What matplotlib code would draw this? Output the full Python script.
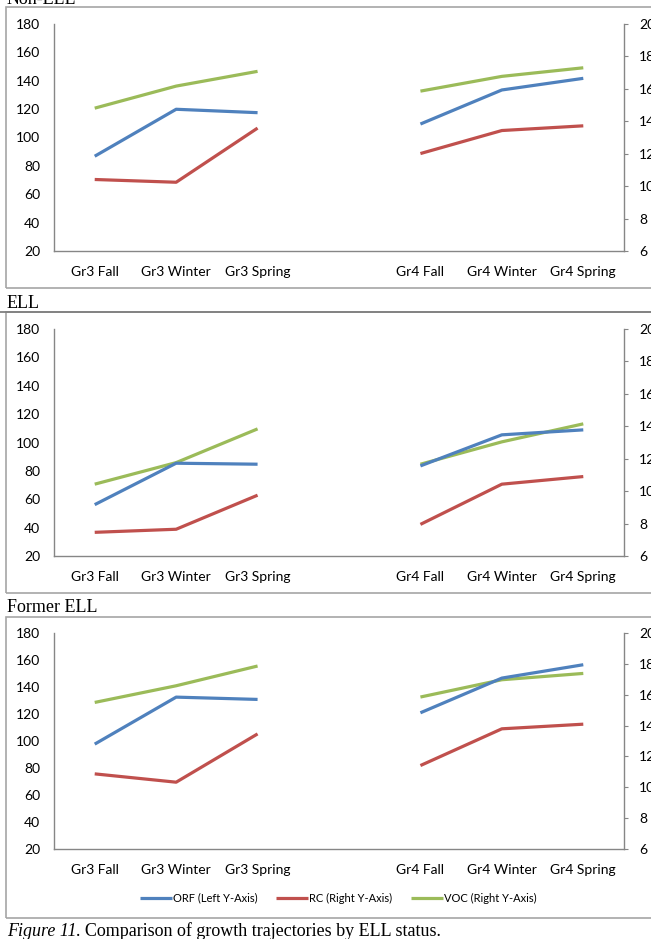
import matplotlib

matplotlib.use('Agg')

import matplotlib.pyplot as plt
import numpy as np
from matplotlib.patches import Rectangle
from matplotlib.lines import Line2D

plt.rcParams.update({
    'font.family': 'Lato',
    'font.size': 10,
    'axes.spines.top': False,
})

W, H = 651, 939

categories = ['Gr3 Fall', 'Gr3 Winter', 'Gr3 Spring', '',
              'Gr4 Fall', 'Gr4 Winter', 'Gr4 Spring']
nan = np.nan

panel_titles = ['Non-ELL', 'ELL', 'Former ELL']

# ORF on the left axis, RC and VOC on the right axis
orf = [
    [86.8, 119.9, 117.5, nan, 109.5, 133.5, 141.7],
    [56.2, 85.4, 84.7, nan, 83.5, 105.4, 108.9],
    [97.7, 132.5, 130.8, nan, 120.9, 146.6, 156.5],
]
rc = [
    [10.41, 10.24, 13.58, nan, 12.01, 13.43, 13.72],
    [7.46, 7.65, 9.75, nan, 7.95, 10.43, 10.90],
    [10.87, 10.33, 13.46, nan, 11.41, 13.79, 14.09],
]
voc = [
    [14.81, 16.17, 17.08, nan, 15.86, 16.77, 17.30],
    [10.43, 11.76, 13.84, nan, 11.66, 13.04, 14.15],
    [15.50, 16.58, 17.86, nan, 15.85, 16.97, 17.38],
]

left_ticks = np.arange(20, 181, 20)
right_ticks = np.arange(6, 21, 2)

c_orf, c_rc, c_voc = '#4F81BD', '#C0504D', '#9BBB59'
axis_grey = '#868686'
box_grey = '#a6a6a6'

fig = plt.figure(figsize=(W / 100, H / 100), dpi=100)


def fx(px):
    return px / W


def fy(py):
    return 1 - py / H


# pixel layout: (box top, box bottom, plot top, plot bottom, title y)
layout = [
    (7, 288, 24, 251, 0),
    (312, 593, 329, 556, 303),
    (617, 918, 633, 849, 607),
]

x = np.arange(len(categories))

for i, (bt, bb, pt, pb, ty) in enumerate(layout):
    # frame around each chart
    fig.add_artist(Rectangle((fx(6), fy(bb)), 1.2, (bb - bt) / H,
                             transform=fig.transFigure, fill=False,
                             ec=box_grey, lw=1.2))
    fig.text(fx(7), fy(ty), panel_titles[i], family='Liberation Serif',
             fontsize=13, va='center', ha='left')

    ax = fig.add_axes([fx(54), fy(pb), fx(624) - fx(54), (pb - pt) / H])
    ax2 = ax.twinx()

    l1, = ax.plot(x, orf[i], color=c_orf, lw=2.3, solid_capstyle='butt',
                  label='ORF (Left Y-Axis)', zorder=3)
    l2, = ax2.plot(x, rc[i], color=c_rc, lw=2.3, solid_capstyle='butt',
                   label='RC (Right Y-Axis)')
    l3, = ax2.plot(x, voc[i], color=c_voc, lw=2.3, solid_capstyle='butt',
                   label='VOC (Right Y-Axis)')
    ax.set_zorder(ax2.get_zorder() + 1)
    ax.patch.set_visible(False)

    ax.set_xlim(-0.5, len(categories) - 0.5)
    ax.set_ylim(20, 180)
    ax2.set_ylim(6, 20)
    ax.set_yticks(left_ticks)
    ax2.set_yticks(right_ticks)
    ax.set_xticks(x)
    ax.set_xticklabels(categories)

    ax.tick_params(axis='y', length=0, pad=10, labelsize=10, colors='black')
    ax.tick_params(axis='x', length=0, pad=10.5, labelsize=10)
    ax2.tick_params(axis='y', length=3, pad=8, labelsize=10,
                    color=axis_grey)
    for a in (ax, ax2):
        a.spines['top'].set_visible(False)
        for s in ('left', 'right', 'bottom'):
            a.spines[s].set_color(axis_grey)
            a.spines[s].set_linewidth(1.0)
    ax.spines['right'].set_visible(False)
    ax2.spines['left'].set_visible(False)
    ax2.spines['bottom'].set_visible(False)

# dark rule above the ELL chart
fig.add_artist(Line2D([0, 1], [fy(312), fy(312)], transform=fig.transFigure,
                      color='#7f7f7f', lw=1.3))

fig.legend(handles=[l1, l2, l3], loc='center', ncol=3,
           bbox_to_anchor=(fx(338), fy(898)), frameon=False, fontsize=8,
           handlelength=2.9, handletextpad=0.05, columnspacing=1.7)

cap = fig.text(fx(7), fy(931), 'Figure 11', family='Liberation Serif',
               style='italic', fontsize=13, va='center', ha='left')
plt.annotate('. Comparison of growth trajectories by ELL status.',
             xy=(1, 0.5), xycoords=cap, va='center', ha='left',
             family='Liberation Serif', fontsize=13,
             annotation_clip=False)

fig.savefig('out.png', dpi=100)
